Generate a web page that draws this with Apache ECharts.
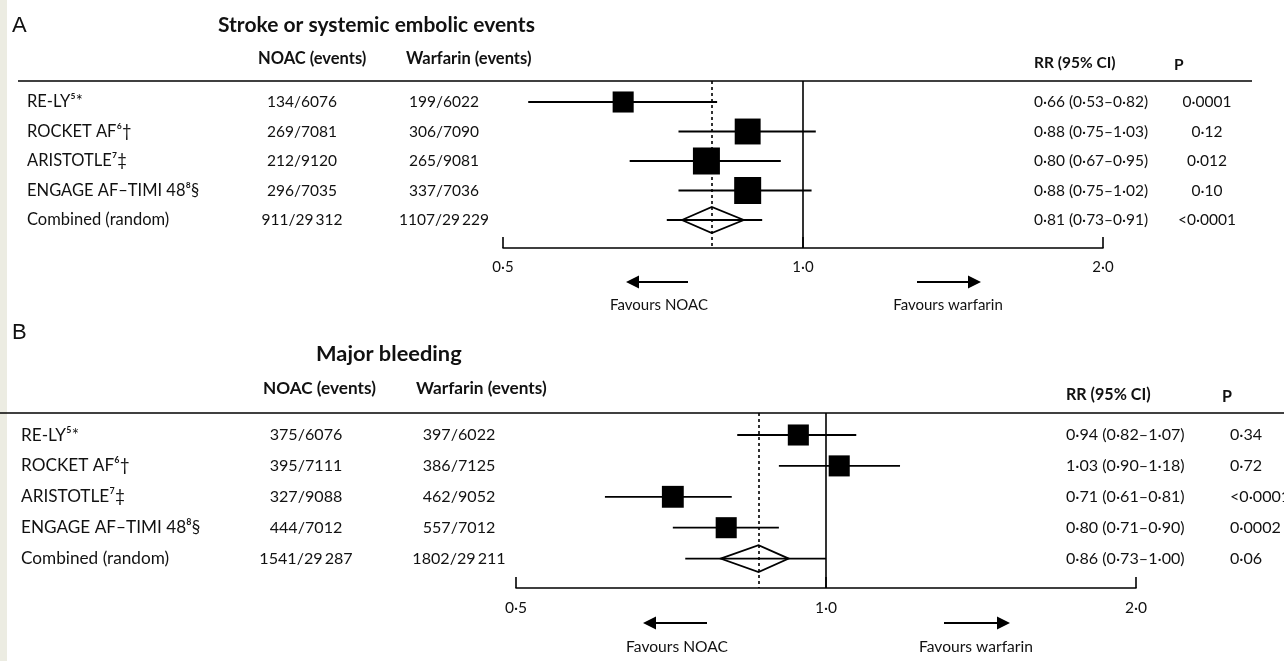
<!DOCTYPE html>
<html><head><meta charset="utf-8">
<script src="https://cdn.jsdelivr.net/npm/echarts@6/dist/echarts.min.js"></script>
<style>html,body{margin:0;padding:0;background:#fff}#c{width:1284px;height:661px}</style>
</head><body><div id="c"></div>
<script>
// ---------- data ----------
const studies = ['RE-LY\u2075*', 'ROCKET AF\u2076\u2020', 'ARISTOTLE\u2077\u2021', 'ENGAGE AF\u2013TIMI 48\u2078\u00a7', 'Combined (random)'];
const tickLabels = ['0\u00b75', '1\u00b70', '2\u00b70'];
const headers = ['NOAC (events)', 'Warfarin (events)', 'RR (95% CI)', 'P'];

// Panel A: stroke or systemic embolic events
const titleA = 'Stroke or systemic embolic events';
const noacA = ['134/6076', '269/7081', '212/9120', '296/7035', '911/29\u2009312'];
const warfA = ['199/6022', '306/7090', '265/9081', '337/7036', '1107/29\u2009229'];
const rrA = [0.66, 0.88, 0.80, 0.88, 0.81];
const loA = [0.53, 0.75, 0.67, 0.75, 0.73];
const hiA = [0.82, 1.03, 0.95, 1.02, 0.91];
const pA = ['0\u00b70001', '0\u00b712', '0\u00b7012', '0\u00b710', '<0\u00b70001'];
const weightA = [0.78, 0.96, 1.0, 1.0];
const diamondA = [0.756, 0.872];

// Panel B: major bleeding
const titleB = 'Major bleeding';
const noacB = ['375/6076', '395/7111', '327/9088', '444/7012', '1541/29\u2009287'];
const warfB = ['397/6022', '386/7125', '462/9052', '557/7012', '1802/29\u2009211'];
const rrB = [0.94, 1.03, 0.71, 0.80, 0.86];
const loB = [0.82, 0.90, 0.61, 0.71, 0.73];
const hiB = [1.07, 1.18, 0.81, 0.90, 1.00];
const pB = ['0\u00b734', '0\u00b772', '<0\u00b70001', '0\u00b70002', '0\u00b706'];
const weightB = [0.78, 0.78, 0.81, 0.78];
const diamondB = [0.79, 0.92];

// ---------- layout ----------
const FONT = 'Lato, "Open Sans", sans-serif';
const panels = [
  { letter: 'A', title: titleA, noac: noacA, warf: warfA, rr: rrA, lo: loA, hi: hiA, p: pA, w: weightA, dia: diamondA,
    top: 81, axisY: 248, row0: 102, step: 29.5, left: 503, right: 1103, lineX0: 18, lineX1: 1252,
    letterY: 26, titleX: 218, titleY: 25, headY: 59, headRY: 63, pHY: 65,
    nameX: 27, noacX: 302, warfX: 444, noacHX: 258, warfHX: 406, rrX: 1034, pX: 1207, pAlign: 'center', pHX: 1174,
    arrowL: [688, 626], arrowR: [917, 981], arrowY: 282, favY: 305, favL: 659, favR: 948,
    box: 27, dh: 13, fs: 1 },
  { letter: 'B', title: titleB, noac: noacB, warf: warfB, rr: rrB, lo: loB, hi: hiB, p: pB, w: weightB, dia: diamondB,
    top: 413, axisY: 588, row0: 435, step: 30.9, left: 516, right: 1136, lineX0: 0, lineX1: 1284,
    letterY: 333, titleX: 316, titleY: 354, headY: 388, headRY: 395, pHY: 397,
    nameX: 21, noacX: 306, warfX: 459, noacHX: 263, warfHX: 416, rrX: 1066, pX: 1230, pAlign: 'left', pHX: 1222,
    arrowL: [707, 643], arrowR: [944, 1010], arrowY: 623, favY: 647, favL: 677, favR: 976,
    box: 27, dh: 13.5, fs: 1.04 }
];

const fmt = v => v.toFixed(2).replace('.', '\u00b7');

const chart = echarts.init(document.getElementById('c'), null, { renderer: 'canvas' });

const grids = [], xAxes = [], yAxes = [], series = [], graphics = [];
graphics.push({ type: 'rect', left: 0, top: 0, shape: { x: 0, y: 0, width: 7, height: 661 }, style: { fill: '#ecece2' }, z: -10 });

panels.forEach((P, k) => {
  const f = s => (s * P.fs).toFixed(1) + 'px ';
  grids.push({ left: P.left, width: P.right - P.left, top: P.top, height: P.axisY - P.top });
  xAxes.push({
    type: 'log', logBase: 2, min: 0.5, max: 2, gridIndex: k,
    axisLine: { onZero: false, lineStyle: { color: '#000', width: 1.6 } },
    axisTick: { inside: true, length: 11, lineStyle: { color: '#000', width: 1.6 } },
    splitLine: { show: false }, minorTick: { show: false },
    axisLabel: { color: '#111', fontFamily: FONT, fontSize: 15 * P.fs, margin: 12,
      formatter: v => tickLabels[Math.round(Math.log2(v)) + 1] }
  });
  yAxes.push({
    type: 'value', gridIndex: k, inverse: true, show: false,
    min: (P.top - P.row0) / P.step, max: (P.axisY - P.row0) / P.step,
    splitLine: { show: false }
  });

  series.push({
    type: 'custom', xAxisIndex: k, yAxisIndex: k, clip: false, silent: true,
    data: P.rr.map((v, i) => [v, i]),
    encode: { x: 0, y: 1 },
    renderItem: (params, api) => {
      const i = api.value(1);
      const y = api.coord([1, i])[1];
      const ch = [];
      const a = api.coord([P.lo[i], i]), b = api.coord([P.hi[i], i]);
      ch.push({ type: 'line', shape: { x1: a[0], y1: y, x2: b[0], y2: y }, style: { stroke: '#000', lineWidth: 1.8 } });
      const c = api.coord([P.rr[i], i]);
      if (i < P.w.length) {
        const s = P.w[i] * P.box;
        ch.push({ type: 'rect', shape: { x: c[0] - s / 2, y: y - s / 2, width: s, height: s }, style: { fill: '#000' } });
      } else {
        const d0 = api.coord([P.dia[0], i]), d1 = api.coord([P.dia[1], i]), h = P.dh;
        ch.push({ type: 'polygon', shape: { points: [[d0[0], y], [c[0], y - h], [d1[0], y], [c[0], y + h]] },
          style: { fill: 'none', stroke: '#000', lineWidth: 1.8 } });
      }
      const t = (text, x, align, size) => ({ type: 'text', style: { text, x, y, fill: '#111', font: f(size) + FONT, align, verticalAlign: 'middle' } });
      ch.push(t(studies[i], P.nameX, 'left', 16.5));
      ch.push(t(P.noac[i], P.noacX, 'center', 15.5));
      ch.push(t(P.warf[i], P.warfX, 'center', 15.5));
      ch.push(t(fmt(P.rr[i]) + ' (' + fmt(P.lo[i]) + '\u2013' + fmt(P.hi[i]) + ')', P.rrX, 'left', 15.5));
      ch.push(t(P.p[i], P.pX, P.pAlign, 15.5));
      return { type: 'group', children: ch };
    },
    markLine: {
      silent: true, symbol: 'none', label: { show: false },
      lineStyle: { color: '#000', width: 1.6 },
      data: [
        { xAxis: 1, lineStyle: { type: 'solid', color: '#000', width: 1.6 } },
        { xAxis: P.rr[P.rr.length - 1], lineStyle: { type: [3, 3], color: '#000', width: 1.6 } }
      ]
    }
  });

  const txt = (text, x, y, font, align) => ({ type: 'text', x, y, style: { text, font, fill: '#111', align: align || 'left', verticalAlign: 'middle' } });
  graphics.push(txt(P.letter, 12, P.letterY, '22px "Liberation Sans", Arial, sans-serif'));
  graphics.push(txt(P.title, P.titleX, P.titleY, 'bold ' + f(21) + FONT));
  graphics.push(txt(headers[0], P.noacHX, P.headY, 'bold ' + f(16.5) + FONT));
  graphics.push(txt(headers[1], P.warfHX, P.headY, 'bold ' + f(16.5) + FONT));
  graphics.push(txt(headers[2], P.rrX, P.headRY, 'bold ' + f(15.5) + FONT));
  graphics.push(txt(headers[3], P.pHX, P.pHY, 'bold ' + f(15.5) + FONT));
  graphics.push({ type: 'line', shape: { x1: P.lineX0, y1: P.top, x2: P.lineX1, y2: P.top }, style: { stroke: '#000', lineWidth: 1.6 } });
  // arrows
  [P.arrowL, P.arrowR].forEach(ar => {
    const dir = Math.sign(ar[1] - ar[0]);
    const tip = ar[1], base = tip - dir * 13;
    graphics.push({ type: 'line', shape: { x1: ar[0], y1: P.arrowY, x2: base, y2: P.arrowY }, style: { stroke: '#000', lineWidth: 2.2 } });
    graphics.push({ type: 'polygon', shape: { points: [[tip, P.arrowY], [base, P.arrowY - 6.5], [base, P.arrowY + 6.5]] }, style: { fill: '#000' } });
  });
  graphics.push(txt('Favours NOAC', P.favL, P.favY, f(15) + FONT, 'center'));
  graphics.push(txt('Favours warfarin', P.favR, P.favY, f(15) + FONT, 'center'));
});

chart.setOption({
  backgroundColor: '#fff',
  animation: false,
  grid: grids, xAxis: xAxes, yAxis: yAxes, series,
  graphic: { elements: graphics }
});
</script></body></html>
